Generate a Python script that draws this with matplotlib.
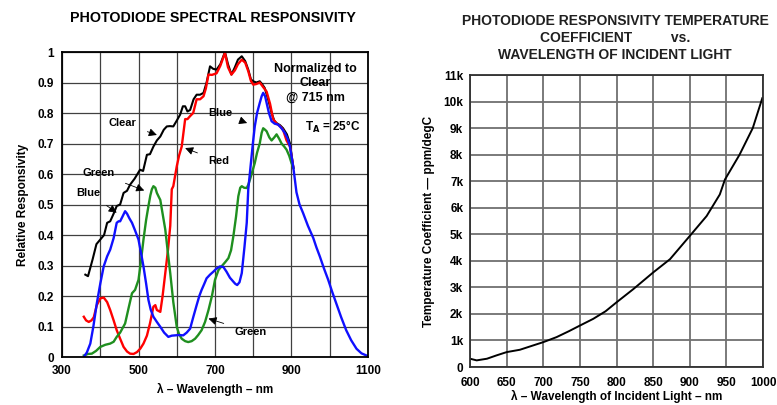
import numpy as np
import matplotlib
matplotlib.use("Agg")
import matplotlib.pyplot as plt
from matplotlib.ticker import MultipleLocator

plt.rcParams["font.family"] = ["Liberation Sans", "DejaVu Sans"]
plt.rcParams["font.weight"] = "bold"

# ── Data: spectral responsivity ──────────────────────────────────────────────
clear_nm = [361, 368, 380, 390, 400, 410, 418, 426, 435, 443, 452, 461, 470, 478,
            490, 504, 512, 522, 530, 539, 548, 557, 566, 574, 582, 591, 600, 609,
            616, 622, 628, 635, 644, 652, 661, 670, 678, 687, 695, 704, 714, 726,
            734, 743, 752, 760, 770, 779, 787, 794, 800, 808, 817, 823, 830, 840,
            848, 855, 861, 870, 878, 888, 896, 905]
clear_v = [0.27, 0.265, 0.32, 0.37, 0.385, 0.40, 0.44, 0.445, 0.47, 0.495, 0.50, 0.538,
           0.545, 0.565, 0.585, 0.614, 0.61, 0.663, 0.665, 0.69, 0.71, 0.723, 0.745,
           0.756, 0.757, 0.756, 0.775, 0.795, 0.822, 0.822, 0.805, 0.81, 0.845, 0.86,
           0.86, 0.866, 0.90, 0.953, 0.945, 0.942, 0.96, 1.0, 0.96, 0.926, 0.95,
           0.975, 0.986, 0.97, 0.942, 0.91, 0.904, 0.90, 0.904, 0.895, 0.882, 0.84,
           0.80, 0.775, 0.767, 0.76, 0.75, 0.73, 0.70, 0.62]

red_nm = [357, 363, 370, 377, 383, 391, 400, 409, 418, 426, 435, 443, 452, 461, 470,
          478, 487, 496, 505, 513, 522, 530, 539, 544, 548, 557, 563, 570, 577, 583,
          587, 591, 600, 606, 613, 618, 622, 628, 635, 643, 652, 661, 670, 676, 683,
          692, 704, 714, 726, 734, 743, 752, 760, 770, 779, 787, 794, 800, 808, 817,
          826, 835, 844, 852, 861, 870, 878, 887, 896, 905]
red_v = [0.132, 0.12, 0.115, 0.12, 0.13, 0.17, 0.192, 0.195, 0.18, 0.154, 0.12, 0.088,
         0.06, 0.033, 0.018, 0.011, 0.01, 0.016, 0.028, 0.044, 0.07, 0.11, 0.165,
         0.17, 0.154, 0.148, 0.2, 0.275, 0.35, 0.43, 0.55, 0.56, 0.625, 0.66, 0.69,
         0.74, 0.78, 0.78, 0.79, 0.80, 0.845, 0.845, 0.855, 0.88, 0.926, 0.925, 0.93,
         0.955, 0.997, 0.95, 0.926, 0.94, 0.96, 0.975, 0.965, 0.937, 0.905, 0.893,
         0.895, 0.90, 0.885, 0.87, 0.83, 0.78, 0.765, 0.757, 0.745, 0.71, 0.69, 0.62]

green_nm = [357, 368, 378, 389, 400, 413, 426, 435, 443, 452, 465, 474, 483, 491,
            500, 506, 513, 520, 526, 531, 535, 539, 544, 548, 553, 557, 563, 570,
            577, 583, 591, 600, 606, 613, 622, 630, 639, 648, 656, 665, 674, 683,
            692, 700, 709, 717, 726, 735, 742, 748, 755, 761, 766, 770, 776, 783,
            787, 791, 798, 804, 810, 817, 822, 826, 831, 835, 842, 848, 855, 861,
            868, 874, 881, 887, 894, 900, 905]
green_v = [0.005, 0.01, 0.011, 0.02, 0.033, 0.04, 0.044, 0.05, 0.066, 0.08, 0.11,
           0.16, 0.209, 0.22, 0.253, 0.31, 0.385, 0.45, 0.495, 0.53, 0.55, 0.56, 0.555,
           0.538, 0.525, 0.515, 0.47, 0.418, 0.34, 0.275, 0.18, 0.099, 0.075, 0.06,
           0.052, 0.049, 0.052, 0.06, 0.072, 0.088, 0.115, 0.154, 0.2, 0.253, 0.285,
           0.297, 0.31, 0.324, 0.35, 0.396, 0.46, 0.527, 0.555, 0.56, 0.555, 0.554,
           0.565, 0.58, 0.61, 0.636, 0.67, 0.70, 0.735, 0.75, 0.745, 0.74, 0.72, 0.71,
           0.72, 0.73, 0.715, 0.70, 0.69, 0.68, 0.66, 0.636, 0.62]

blue_nm = [357, 365, 374, 382, 391, 400, 409, 418, 426, 435, 443, 448, 452, 458, 465,
           470, 476, 483, 491, 500, 506, 513, 520, 526, 532, 539, 548, 557, 567, 578,
           587, 596, 606, 617, 626, 635, 643, 652, 659, 665, 672, 678, 687, 696, 704,
           713, 722, 730, 739, 748, 753, 758, 764, 770, 777, 783, 787, 793, 799, 804,
           810, 817, 822, 826, 831, 835, 841, 848, 856, 865, 874, 883, 890, 896, 905,
           913, 921, 930, 943, 957, 965, 974, 985, 996, 1006, 1017, 1030, 1043, 1056,
           1070, 1083, 1096, 1100]
blue_v = [0.0, 0.015, 0.044, 0.1, 0.176, 0.24, 0.297, 0.33, 0.352, 0.39, 0.44, 0.445,
          0.445, 0.46, 0.478, 0.47, 0.455, 0.44, 0.415, 0.385, 0.345, 0.297, 0.24,
          0.187, 0.155, 0.132, 0.115, 0.099, 0.08, 0.066, 0.07, 0.071, 0.072, 0.071,
          0.08, 0.093, 0.13, 0.17, 0.2, 0.22, 0.24, 0.258, 0.27, 0.28, 0.29, 0.297,
          0.295, 0.28, 0.26, 0.247, 0.24, 0.236, 0.245, 0.275, 0.36, 0.44, 0.55,
          0.625, 0.70, 0.756, 0.80, 0.833, 0.855, 0.866, 0.855, 0.833, 0.80, 0.773,
          0.765, 0.762, 0.75, 0.734, 0.715, 0.69, 0.62, 0.54, 0.50, 0.473, 0.43, 0.39,
          0.36, 0.33, 0.29, 0.253, 0.215, 0.176, 0.13, 0.088, 0.055, 0.027, 0.012,
          0.005, 0.003]

# ── Data: temperature coefficient ────────────────────────────────────────────
tc_nm = [600, 609, 623, 636, 650, 668, 686, 700, 718, 735, 750, 768, 785, 800, 823,
         850, 873, 900, 923, 941, 948, 968, 986, 999]
tc_ppm = [312, 250, 312, 437, 562, 650, 812, 937, 1125, 1350, 1562, 1812, 2100, 2437,
          2937, 3562, 4062, 4937, 5687, 6500, 7062, 8000, 9000, 10125]

# (text, text position, arrow head position)
callouts = [
    ("Clear", (459, 0.767), (548, 0.728)),
    ("Blue", (713, 0.800), (784, 0.767)),
    ("Red", (709, 0.642), (622, 0.685)),
    ("Green", (396, 0.603), (515, 0.546)),
    ("Blue", (370, 0.538), (443, 0.473)),
    ("Green", (793, 0.082), (683, 0.126)),
]

fig = plt.figure(figsize=(7.77, 4.05), dpi=100)

# ── Left: spectral responsivity ──────────────────────────────────────────────
ax = fig.add_axes([0.0798, 0.1185, 0.3938, 0.7531])
ax.plot(clear_nm, clear_v, color="black", lw=1.5)
ax.plot(red_nm, red_v, color="#ff0000", lw=1.7)
ax.plot(green_nm, green_v, color="#1f8f1f", lw=1.7)
ax.plot(blue_nm, blue_v, color="#1010ff", lw=1.7)

ax.set_xlim(300, 1100)
ax.set_ylim(0, 1)
ax.set_xticks([300, 500, 700, 900, 1100])
ax.xaxis.set_minor_locator(MultipleLocator(100))
ax.set_yticks(np.arange(0, 1.01, 0.1))
ax.set_yticklabels(["0", "0.1", "0.2", "0.3", "0.4", "0.5", "0.6", "0.7", "0.8", "0.9", "1"])
ax.grid(which="both", color="#404040", lw=0.9)
ax.tick_params(which="both", length=0, labelsize=8.5, pad=6)
for s in ax.spines.values():
    s.set_linewidth(1.3)
ax.set_xlabel("λ – Wavelength – nm", fontsize=8.5, fontweight="bold", labelpad=4)
ax.set_ylabel("Relative Responsivity", fontsize=8.5, fontweight="bold", labelpad=6)

for txt, tpos, hpos in callouts:
    ax.annotate(txt, xy=hpos, xytext=tpos, fontsize=8, fontweight="bold",
                ha="center", va="center",
                arrowprops=dict(arrowstyle="-|>", color="black", lw=0.6,
                                mutation_scale=12, shrinkA=6, shrinkB=0))

ax.text(962, 0.898, "Normalized to\nClear\n@ 715 nm", fontsize=9, fontweight="bold",
        ha="center", va="center", linespacing=1.25)
ax.text(1008, 0.753, "T$_\\mathbf{A}$ = 25°C", fontsize=8.5, fontweight="bold",
        ha="center", va="center")

fig.text(0.274, 0.955, "PHOTODIODE SPECTRAL RESPONSIVITY", fontsize=10.3,
         fontweight="bold", ha="center", va="center")

# ── Right: temperature coefficient ───────────────────────────────────────────
ax2 = fig.add_axes([0.605, 0.0938, 0.377, 0.721])
ax2.plot(tc_nm, tc_ppm, color="black", lw=1.4)
ax2.set_xlim(600, 1000)
ax2.set_ylim(0, 11000)
ax2.set_xticks(np.arange(600, 1001, 50))
ax2.set_yticks(np.arange(0, 11001, 1000))
ax2.set_yticklabels(["0"] + [f"{k}k" for k in range(1, 12)])
ax2.grid(color="#707070", lw=1.3)
ax2.tick_params(axis="x", length=0, labelsize=8.5, pad=7)
ax2.tick_params(axis="y", length=0, labelsize=8.5, pad=5)
for s in ax2.spines.values():
    s.set_linewidth(1.3)
    s.set_color("#303030")
ax2.set_xlabel("λ – Wavelength of Incident Light – nm", fontsize=8.5,
               fontweight="bold", labelpad=1)
ax2.set_ylabel("Temperature Coefficient — ppm/degC", fontsize=8.5,
               fontweight="bold", labelpad=6)

fig.text(0.7915, 0.848, "PHOTODIODE RESPONSIVITY TEMPERATURE\nCOEFFICIENT          vs.\nWAVELENGTH OF INCIDENT LIGHT",
         fontsize=10, fontweight="bold", ha="center", va="bottom",
         linespacing=1.25, color="#202020")

fig.savefig("out.png", dpi=100)
